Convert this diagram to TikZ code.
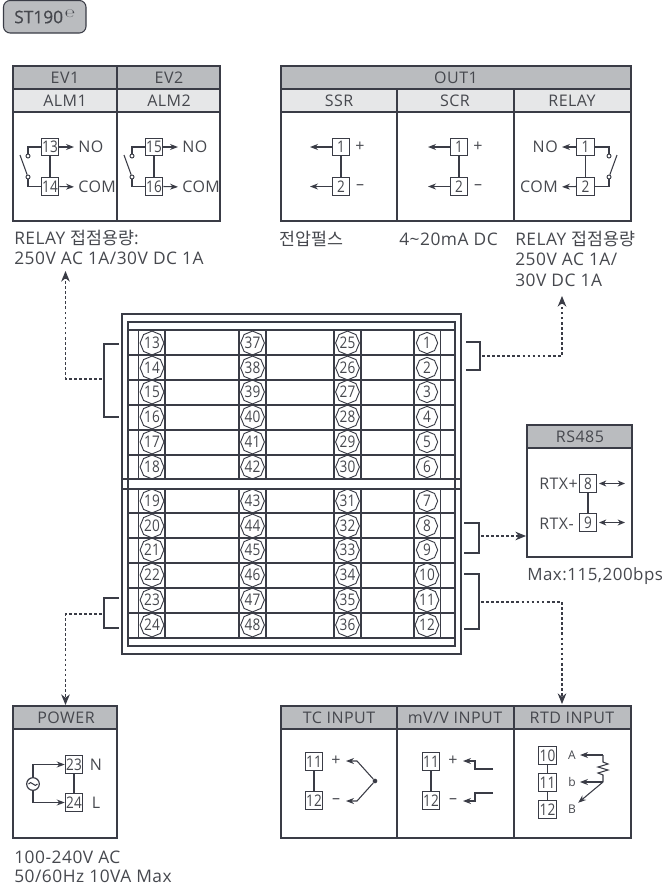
\documentclass[tikz,border=0pt]{standalone}
\usepackage{xcolor}
\usepackage{fontspec}
\setmainfont[LetterSpace=3]{Open Sans}
\newfontfamily\korfont{Noto Sans CJK KR}
\newfontfamily\numfont[FakeStretch=0.85]{Open Sans}
\newfontfamily\signfont{DejaVu Sans}
\newfontfamily\titlefont[FakeBold=0.6]{Open Sans}
\usetikzlibrary{arrows.meta,shapes.geometric}
\definecolor{linecol}{RGB}{58,60,70}
\definecolor{txtcol}{RGB}{70,72,78}
\definecolor{headcol}{RGB}{186,188,191}
\definecolor{subcol}{RGB}{230,231,232}
\tikzset{
  wire/.style={draw=linecol,line width=0.8pt},
  tipwire/.style={wire,-{Stealth[length=6pt,width=4.5pt]}},
  duowire/.style={wire,{Stealth[length=5.5pt,width=4.5pt]}-{Stealth[length=5.5pt,width=4.5pt]}},
  dotwire/.style={wire,dash pattern=on 2pt off 1.8pt,-{Stealth[length=8pt,width=6.5pt]}},
  bracket/.style={draw=linecol,line width=2.2pt},
  frame/.style={draw=linecol,line width=0.9pt},
  lab/.style={text=txtcol,inner sep=0pt,font=\fontsize{12}{14}\selectfont},
  note/.style={lab,anchor=west,font=\fontsize{13}{15}\selectfont},
  term/.style={draw=linecol,line width=0.9pt,fill=white,text=txtcol,inner sep=0pt,minimum width=13pt,minimum height=13pt,font=\numfont\fontsize{12}{13}\selectfont},
  screw/.style={draw=linecol,line width=0.7pt,regular polygon,regular polygon sides=8,shape border rotate=22.5,inner sep=0pt,minimum size=16pt,text=txtcol,font=\numfont\fontsize{12}{13}\selectfont},
  contact/.style={draw=linecol,line width=0.7pt,circle,fill=white,inner sep=0pt,minimum size=3pt},
}
\begin{document}
\begin{tikzpicture}[x=0.75pt,y=0.75pt,yscale=-1,xscale=1]
\useasboundingbox (0,0) rectangle (665,886);

%Title
\draw [draw=linecol,line width=0.8pt,fill=headcol,rounded corners=5pt] (3.5,0.5) rectangle (86,33);
\node [lab,anchor=west,font=\titlefont\fontsize{13}{15}\selectfont] (title) at (14,17) {ST190};
\node [lab,anchor=center,font=\signfont\itshape\fontsize{9}{10}\selectfont] (titlemark) at (70,14) {℮};

%EV box
\fill [headcol] (13,66) rectangle (220,89);
\fill [subcol] (13,89) rectangle (220,112);
\draw [frame] (13,66) rectangle (220,221);
\draw [frame] (13,89) -- (220,89);
\draw [frame] (13,112) -- (220,112);
\draw [frame] (117,66) -- (117,221);
\node [lab] (ev1) at (65,78) {EV1};
\node [lab] (ev2) at (169,78) {EV2};
\node [lab] (alm1) at (65,101) {ALM1};
\node [lab] (alm2) at (169,101) {ALM2};
\node [term] (t13) at (50,147) {13};
\node [term] (t14) at (50,186.5) {14};
\node [term] (t15) at (154,147) {15};
\node [term] (t16) at (154,186.5) {16};
\node [lab,anchor=west] (no1) at (78,147) {NO};
\node [lab,anchor=west] (com1) at (78,187) {COM};
\node [lab,anchor=west] (no2) at (182,147) {NO};
\node [lab,anchor=west] (com2) at (182,187) {COM};
\foreach \ta/\tb/\na/\nb/\xx in {t13/t14/no1/com1/28,t15/t16/no2/com2/132}{
  \draw [wire] (\ta) -- (\tb);
  \draw [tipwire,shorten >=3pt] (\ta.east) -- (\na.west);
  \draw [tipwire,shorten >=3pt] (\tb.east) -- (\nb.west);
  \node [contact] (\ta top) at (\xx,156) {};
  \node [contact] (\ta low) at (\xx,177) {};
  \draw [wire] (\ta.west) -| (\ta top);
  \draw [wire] (\tb.west) -| (\ta low);
  \coordinate (\ta blade) at (\xx-8,155);
  \draw [wire] (\ta low) -- (\ta blade);
}

%OUT1 box
\fill [headcol] (281,66) rectangle (631,89);
\fill [subcol] (281,89) rectangle (631,112);
\draw [frame] (281,66) rectangle (631,221);
\draw [frame] (281,89) -- (631,89);
\draw [frame] (281,112) -- (631,112);
\draw [frame] (397,89) -- (397,221);
\draw [frame] (514,89) -- (514,221);
\node [lab] (out1) at (456,78) {OUT1};
\node [lab] (ssr) at (339,101) {SSR};
\node [lab] (scr) at (455,101) {SCR};
\node [lab] (relay) at (572,101) {RELAY};
\foreach \nm/\xx/\lx in {a/341/310,b/459/428}{
  \node [term] (\nm1) at (\xx,147) {1};
  \node [term] (\nm2) at (\xx,186.5) {2};
  \coordinate (\nm1end) at (\lx,147);
  \coordinate (\nm2end) at (\lx,186.5);
  \draw [wire] (\nm1) -- (\nm2);
  \draw [tipwire] (\nm1) -- (\nm1end);
  \draw [tipwire] (\nm2) -- (\nm2end);
  \node [lab] (\nm plus) at (\xx+19,147) {+};
  \node [lab] (\nm minus) at (\xx+19,187) {--};
}
\node [term] (c1) at (585.5,147) {1};
\node [term] (c2) at (585.5,186.5) {2};
\node [lab,anchor=east] (no3) at (558,147) {NO};
\node [lab,anchor=east] (com3) at (558,187) {COM};
\draw [wire] (c1) -- (c2);
\draw [tipwire,shorten >=3pt] (c1.west) -- (no3.east);
\draw [tipwire,shorten >=3pt] (c2.west) -- (com3.east);
\node [contact] (ctop) at (609,156) {};
\node [contact] (clow) at (609,177) {};
\coordinate (cblade) at (617,155);
\draw [wire] (c1.east) -| (ctop);
\draw [wire] (c2.east) -| (clow);
\draw [wire] (clow) -- (cblade);

%Notes
\node [note] (note1) at (14,238) {RELAY {\korfont 접점용량}:};
\node [note] (note2) at (14,258) {250V AC 1A/30V DC 1A};
\node [note] (note3) at (279,239) {\korfont 전압펄스};
\node [note] (note4) at (399,239) {4\textasciitilde20mA DC};
\node [note] (note5) at (515,239) {RELAY {\korfont 접점용량}};
\node [note] (note6) at (515,259) {250V AC 1A/};
\node [note] (note7) at (515,280) {30V DC 1A};

%Terminal block
\draw [frame] (122,314) rectangle (461,654);
\draw [frame] (128,322) rectangle (455,646);
\draw [frame] (128,330) -- (455,330);
\foreach \yy in {355,380,405,430,455,513,538,563,588,613,638}{
  \draw [frame] (128,\yy) -- (455,\yy);
}
\draw [frame] (122,479) -- (461,479);
\draw [frame] (122,489) -- (461,489);
\foreach \xx in {138.5,165,239,266,334,361,414,440.5}{
  \draw [frame] (\xx,330) -- (\xx,479);
  \draw [frame] (\xx,489) -- (\xx,638);
}
\foreach \xx/\base in {152/12,252.5/36,347.5/24,427/0}{
  \foreach \yy [count=\i] in {343,368,392,417,442,467,501,526,550,575,600,625}{
    \pgfmathtruncatemacro{\num}{\base+\i}
    \node [screw] (n\num) at (\xx,\yy) {\num};
  }
}

%Brackets
\draw [bracket] (119,344) -| (104,417) -- (119,417);
\draw [bracket] (466,342) -| (480,370) -- (466,370);
\draw [bracket] (464,523) -| (479,553) -- (464,553);
\draw [bracket] (464,574) -| (479,629) -- (464,629);
\draw [bracket] (119,598) -| (104,628) -- (119,628);
\coordinate (brA) at (102,379);
\coordinate (brB) at (482,356);
\coordinate (brC) at (481,536);
\coordinate (brD) at (481,602);
\coordinate (brE) at (102,614);
\coordinate (toalm) at (65.5,271);
\coordinate (toout) at (562,296);
\coordinate (tors) at (526,536);
\coordinate (tortd) at (562,704);
\coordinate (topow) at (65.5,705);
\draw [dotwire] (brA) -| (toalm);
\draw [dotwire] (brB) -| (toout);
\draw [dotwire] (brC) -- (tors);
\draw [dotwire] (brD) -| (tortd);
\draw [dotwire] (brE) -| (topow);

%RS485 box
\fill [headcol] (527,425) rectangle (632,448);
\draw [frame] (527,425) rectangle (632,557);
\draw [frame] (527,448) -- (632,448);
\node [lab] (rs485) at (580,436.5) {RS485};
\node [term] (r8) at (588,483.5) {8};
\node [term] (r9) at (588,522.5) {9};
\node [lab,anchor=west] (rtxp) at (539,484) {RTX+};
\node [lab,anchor=west] (rtxm) at (539,524) {RTX-};
\coordinate (r8a) at (599,483.5);
\coordinate (r8b) at (625,483.5);
\coordinate (r9a) at (599,522.5);
\coordinate (r9b) at (625,522.5);
\draw [wire] (r8) -- (r9);
\draw [duowire] (r8a) -- (r8b);
\draw [duowire] (r9a) -- (r9b);
\node [note,font=\fontsize{12.7}{15}\selectfont] (rsnote) at (527,576) {Max:115,200bps};

%POWER box
\fill [headcol] (13,706) rectangle (117,729);
\draw [frame] (13,706) rectangle (117,838);
\draw [frame] (13,729) -- (117,729);
\node [lab] (power) at (66,718) {POWER};
\node [term] (t23) at (74,764.5) {23};
\node [term] (t24) at (74,802.5) {24};
\node [lab] (lbN) at (96,765) {N};
\node [lab] (lbL) at (96,803) {L};
\node [draw=linecol,line width=0.9pt,circle,inner sep=0pt,minimum size=9.5pt] (src) at (33,784) {};
\draw [wire] (28.5,784) .. controls (31,779) and (35,789) .. (37.5,784);
\draw [wire] (t23) -- (t24);
\draw [tipwire] (src.north) |- (t23.west);
\draw [tipwire] (src.south) |- (t24.west);
\node [note] (pownote1) at (14,857) {100-240V AC};
\node [note] (pownote2) at (14,876) {50/60Hz 10VA Max};

%INPUT box
\fill [headcol] (281,706) rectangle (631,729);
\draw [frame] (281,706) rectangle (631,838);
\draw [frame] (281,729) -- (631,729);
\draw [frame] (397,706) -- (397,838);
\draw [frame] (514,706) -- (514,838);
\node [lab] (tcin) at (339,718) {TC INPUT};
\node [lab] (mvin) at (455,718) {mV/V INPUT};
\node [lab] (rtdin) at (572,718) {RTD INPUT};

%TC
\node [term] (tc11) at (314,761.5) {11};
\node [term] (tc12) at (314,800.5) {12};
\node [lab] (tcp) at (336,761) {+};
\node [lab] (tcm) at (336,801) {--};
\draw [wire] (tc11) -- (tc12);
\node [circle,fill=linecol,inner sep=0pt,minimum size=3.5pt] (tcj) at (375,781) {};
\coordinate (tcA) at (346,761);
\coordinate (tcB) at (346,801);
\draw [tipwire] (tcj) -- (357,761) -- (tcA);
\draw [tipwire] (tcj) -- (357,801) -- (tcB);

%mV
\node [term] (mv11) at (431,761.5) {11};
\node [term] (mv12) at (431,800.5) {12};
\node [lab] (mvp) at (453,761) {+};
\node [lab] (mvm) at (453,801) {--};
\draw [wire] (mv11) -- (mv12);
\coordinate (mvA) at (463,761);
\coordinate (mvB) at (463,801);
\coordinate (mvC) at (493,769);
\coordinate (mvD) at (493,793);
\draw [tipwire] (mvC) -- (475,769) -- (475,761) -- (mvA);
\draw [tipwire] (mvD) -- (475,793) -- (475,801) -- (mvB);

%RTD
\node [term] (rd10) at (547.5,755.5) {10};
\node [term] (rd11) at (547.5,782.5) {11};
\node [term] (rd12) at (547.5,809.5) {12};
\draw [wire] (rd10) -- (rd11) -- (rd12);
\node [lab,font=\fontsize{9}{10}\selectfont] (lbA) at (572,755) {A};
\node [lab,font=\fontsize{9}{10}\selectfont] (lbb) at (572,782) {b};
\node [lab,font=\fontsize{9}{10}\selectfont] (lbB) at (572,809) {B};
\coordinate (rdA) at (603,755);
\coordinate (rdC) at (603,782);
\draw [tipwire,shorten >=3pt] (rdA) -- (lbA.east);
\draw [wire] (rdA) -- (603,762) -- (608,764) -- (598,767) -- (608,770) -- (598,773) -- (603,775) -- (rdC);
\draw [tipwire,shorten >=3pt] (rdC) -- (lbb.east);
\draw [tipwire,shorten >=2pt] (rdC) -- (lbB.north east);
\end{tikzpicture}
\end{document}
